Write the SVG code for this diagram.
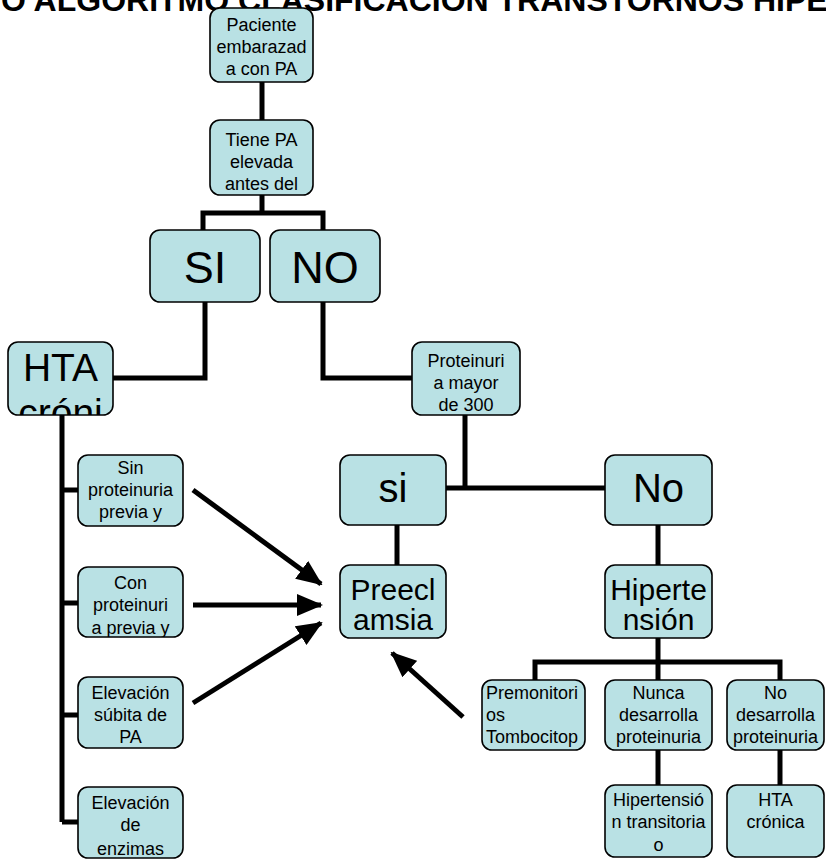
<svg xmlns="http://www.w3.org/2000/svg" width="826" height="862" viewBox="0 0 826 862">
<style>
.box{fill:#b9e1e4;stroke:#000;stroke-width:1.6}
.t{font-family:"Liberation Sans",Arial,sans-serif;font-size:18px;fill:#000;text-anchor:middle}
.tl{font-family:"Liberation Sans",Arial,sans-serif;font-size:18px;fill:#000;text-anchor:start}
.big{font-family:"Liberation Sans",Arial,sans-serif;fill:#000;text-anchor:middle}
.c{fill:none;stroke:#000;stroke-width:5}
.title{font-family:"Liberation Sans",Arial,sans-serif;font-weight:bold;font-size:32px;fill:#000}
</style>
<defs>
<marker id="ah" markerUnits="userSpaceOnUse" markerWidth="26" markerHeight="22" refX="24" refY="11" orient="auto">
<path d="M0,0 L26,11 L0,22 z" fill="#000"/>
</marker>
<clipPath id="cHTA"><rect x="8" y="342" width="105" height="73" rx="10"/></clipPath>
<clipPath id="cProt"><rect x="412" y="342" width="108" height="73" rx="10"/></clipPath>
<clipPath id="cCon"><rect x="78" y="567" width="105" height="70" rx="10"/></clipPath>
<clipPath id="cEnz"><rect x="78" y="787" width="105" height="71" rx="10"/></clipPath>
<clipPath id="cPrem"><rect x="482" y="680" width="103" height="70" rx="10"/></clipPath>
</defs>
<rect width="826" height="862" fill="#fff"/>
<text class="title" x="1" y="11">O ALGORITMO CLASIFICACION TRANSTORNOS HIPE</text>

<g id="connectors">
<path class="c" d="M262,82 V120"/>
<path class="c" d="M262,195 V213 M203,230 V213 H323 V230"/>
<path class="c" d="M205,302 V378 H113"/>
<path class="c" d="M323,302 V378 H412"/>
<path class="c" d="M465,415 V488 M446,488 H605"/>
<path class="c" d="M397,525 V565"/>
<path class="c" d="M658,525 V565"/>
<path class="c" d="M658,638 V680 M535,680 V662 H780 V680"/>
<path class="c" d="M658,750 V785"/>
<path class="c" d="M780,750 V785"/>
<path class="c" d="M62,415 V822 M62,490 H78 M62,603 H78 M62,715 H78 M62,822 H78"/>
<line class="c" x1="193" y1="490" x2="321" y2="584" marker-end="url(#ah)"/>
<line class="c" x1="193" y1="605" x2="321" y2="605" marker-end="url(#ah)"/>
<line class="c" x1="193" y1="703" x2="321" y2="623" marker-end="url(#ah)"/>
<line class="c" x1="463" y1="717" x2="392" y2="653" marker-end="url(#ah)"/>
</g>

<g id="n-paciente">
<rect class="box" x="210" y="8" width="103" height="74" rx="10"/>
<text class="t" x="261.5" y="31">Paciente</text>
<text class="t" x="261.5" y="53">embarazad</text>
<text class="t" x="261.5" y="75">a con PA</text>
</g>
<g id="n-tiene">
<rect class="box" x="210" y="120" width="103" height="75" rx="10"/>
<text class="t" x="261.5" y="146">Tiene PA</text>
<text class="t" x="261.5" y="168">elevada</text>
<text class="t" x="261.5" y="190">antes del</text>
</g>
<g id="n-si1">
<rect class="box" x="150" y="230" width="110" height="72" rx="10"/>
<text class="big" x="205" y="283" font-size="45">SI</text>
</g>
<g id="n-no1">
<rect class="box" x="270" y="230" width="110" height="72" rx="10"/>
<text class="big" x="325" y="283" font-size="45">NO</text>
</g>
<g id="n-hta">
<rect class="box" x="8" y="342" width="105" height="73" rx="10"/>
<g clip-path="url(#cHTA)">
<text class="big" x="60.5" y="381" font-size="39">HTA</text>
<text class="big" x="60.5" y="426" font-size="39">cróni</text>
</g>
</g>
<g id="n-prot">
<rect class="box" x="412" y="342" width="108" height="73" rx="10"/>
<g clip-path="url(#cProt)">
<text class="t" x="466" y="367">Proteinuri</text>
<text class="t" x="466" y="389">a mayor</text>
<text class="t" x="466" y="411">de 300</text>
</g>
</g>
<g id="n-si2">
<rect class="box" x="340" y="455" width="106" height="70" rx="10"/>
<text class="big" x="393" y="502" font-size="40">si</text>
</g>
<g id="n-no2">
<rect class="box" x="605" y="455" width="107" height="70" rx="10"/>
<text class="big" x="658.5" y="502" font-size="40">No</text>
</g>
<g id="n-sin">
<rect class="box" x="78" y="455" width="105" height="71" rx="10"/>
<text class="t" x="130.5" y="474">Sin</text>
<text class="t" x="130.5" y="496">proteinuria</text>
<text class="t" x="130.5" y="518">previa y</text>
</g>
<g id="n-con">
<rect class="box" x="78" y="567" width="105" height="70" rx="10"/>
<g clip-path="url(#cCon)">
<text class="t" x="130.5" y="589">Con</text>
<text class="t" x="130.5" y="611">proteinuri</text>
<text class="t" x="130.5" y="634">a previa y</text>
</g>
</g>
<g id="n-preecl">
<rect class="box" x="340" y="565" width="106" height="73" rx="10"/>
<text class="big" x="393" y="600" font-size="30">Preecl</text>
<text class="big" x="393" y="630" font-size="30">amsia</text>
</g>
<g id="n-hiper">
<rect class="box" x="605" y="565" width="107" height="73" rx="10"/>
<text class="big" x="658.5" y="600" font-size="30">Hiperte</text>
<text class="big" x="658.5" y="630" font-size="30">nsión</text>
</g>
<g id="n-subita">
<rect class="box" x="78" y="677" width="105" height="71" rx="10"/>
<text class="t" x="130.5" y="699">Elevación</text>
<text class="t" x="130.5" y="721">súbita de</text>
<text class="t" x="130.5" y="743">PA</text>
</g>
<g id="n-enzimas">
<rect class="box" x="78" y="787" width="105" height="71" rx="10"/>
<g clip-path="url(#cEnz)">
<text class="t" x="130.5" y="809">Elevación</text>
<text class="t" x="130.5" y="831">de</text>
<text class="t" x="130.5" y="855">enzimas</text>
</g>
</g>
<g id="n-prem">
<rect class="box" x="482" y="680" width="103" height="70" rx="10"/>
<g clip-path="url(#cPrem)">
<text class="tl" x="486" y="699">Premonitori</text>
<text class="tl" x="486" y="721">os</text>
<text class="tl" x="486" y="743">Tombocitop</text>
</g>
</g>
<g id="n-nunca">
<rect class="box" x="605" y="680" width="107" height="70" rx="10"/>
<text class="t" x="658.5" y="699">Nunca</text>
<text class="t" x="658.5" y="721">desarrolla</text>
<text class="t" x="658.5" y="743">proteinuria</text>
</g>
<g id="n-nodes">
<rect class="box" x="727" y="680" width="97" height="70" rx="10"/>
<text class="t" x="775.5" y="699">No</text>
<text class="t" x="775.5" y="721">desarrolla</text>
<text class="t" x="775.5" y="743">proteinuria</text>
</g>
<g id="n-transit">
<rect class="box" x="605" y="785" width="107" height="72" rx="10"/>
<text class="t" x="658.5" y="806">Hipertensió</text>
<text class="t" x="658.5" y="828">n transitoria</text>
<text class="t" x="658.5" y="851">o</text>
</g>
<g id="n-htacron">
<rect class="box" x="727" y="785" width="97" height="72" rx="10"/>
<text class="t" x="775.5" y="806">HTA</text>
<text class="t" x="775.5" y="828">crónica</text>
</g>
</svg>
